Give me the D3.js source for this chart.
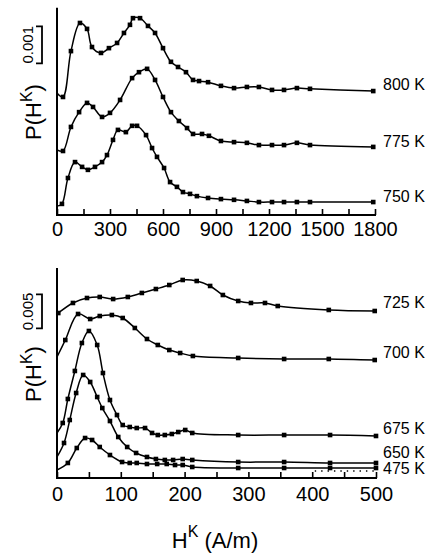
<!DOCTYPE html>
<html>
<head>
<meta charset="utf-8">
<script src="https://cdn.jsdelivr.net/npm/d3@7/dist/d3.min.js"></script>
<style>
  html, body { margin: 0; padding: 0; background: #fff; }
  svg { display: block; font-family: "Liberation Sans", Arial, Helvetica, sans-serif; }
</style>
</head>
<body>
<svg id="chart" width="430" height="554"></svg>
<script>
// ---- upper panel: high-temperature distributions (H in A/m, P per A/m) ----
const h800 = [0, 34, 79, 130, 170, 198, 249, 294, 340, 379, 413, 430, 470, 515, 555, 600, 645, 685, 730, 770, 804, 855, 928, 1002, 1075, 1143, 1217, 1285, 1358, 1432, 1790];
const p800 = [0.00030, 0.00019, 0.00143, 0.00219, 0.00203, 0.00154, 0.00138, 0.00151, 0.00165, 0.00192, 0.00214, 0.00232, 0.00232, 0.00211, 0.00192, 0.00151, 0.00114, 0.00100, 0.00086, 0.00065, 0.00062, 0.00059, 0.00049, 0.00043, 0.00046, 0.00046, 0.00038, 0.00038, 0.00043, 0.00041, 0.00035];

const h775 = [0, 34, 79, 125, 170, 204, 255, 300, 357, 425, 464, 510, 555, 600, 645, 690, 736, 770, 821, 860, 928, 1002, 1075, 1143, 1217, 1285, 1358, 1432, 1790];
const p775 = [0.00026, 0.00023, 0.00088, 0.00128, 0.00153, 0.00142, 0.00115, 0.00126, 0.00161, 0.00220, 0.00236, 0.00245, 0.00215, 0.00169, 0.00128, 0.00104, 0.00085, 0.00069, 0.00069, 0.00064, 0.00050, 0.00047, 0.00045, 0.00039, 0.00039, 0.00039, 0.00045, 0.00039, 0.00034];

const h750 = [0, 28, 62, 102, 142, 175, 215, 255, 283, 317, 345, 390, 425, 453, 504, 538, 566, 606, 640, 679, 713, 753, 792, 855, 928, 1002, 1075, 1143, 1217, 1285, 1358, 1432, 1790];
const p750 = [0.00024, 0.00030, 0.00100, 0.00143, 0.00130, 0.00122, 0.00130, 0.00143, 0.00162, 0.00203, 0.00230, 0.00224, 0.00241, 0.00241, 0.00216, 0.00181, 0.00157, 0.00127, 0.00089, 0.00076, 0.00062, 0.00057, 0.00051, 0.00046, 0.00043, 0.00041, 0.00038, 0.00035, 0.00035, 0.00035, 0.00035, 0.00035, 0.00035];

const upperNames = ["800 K", "775 K", "750 K"];
const upperOffsets = [0.0030, 0.0015, 0];   // vertical shift of each curve
const upperTicks = [0, 300, 600, 900, 1200, 1500, 1800];

// ---- lower panel: low-temperature distributions ----
const h725 = [2, 25, 47, 67, 88, 111, 133, 155, 176, 197, 219, 240, 260, 284, 304, 326, 346, 426, 498];
const p725 = [0.00176, 0.00324, 0.00397, 0.00412, 0.00382, 0.00412, 0.00471, 0.00529, 0.00588, 0.00662, 0.00647, 0.00574, 0.00441, 0.00353, 0.00324, 0.00324, 0.00279, 0.00221, 0.00206];

const h700 = [0, 13, 33, 52, 67, 86, 103, 122, 141, 158, 176, 193, 213, 284, 356, 426, 498];
const p700 = [0.00229, 0.00479, 0.00862, 0.00788, 0.00832, 0.00847, 0.00803, 0.00656, 0.00494, 0.00406, 0.00332, 0.00288, 0.00244, 0.00215, 0.00200, 0.00200, 0.00185];

const h675 = [0, 9, 17, 28, 39, 50, 63, 72, 83, 94, 103, 114, 125, 138, 149, 158, 169, 180, 190, 201, 212, 284, 356, 428, 500];
const p675 = [0.00212, 0.00359, 0.00712, 0.01124, 0.01535, 0.01712, 0.01506, 0.01094, 0.00697, 0.00476, 0.00329, 0.00300, 0.00285, 0.00285, 0.00212, 0.00182, 0.00182, 0.00197, 0.00226, 0.00256, 0.00212, 0.00182, 0.00182, 0.00182, 0.00168];

const h650 = [0, 11, 20, 30, 41, 52, 63, 71, 83, 96, 110, 124, 141, 155, 169, 182, 197, 212, 284, 356, 428, 500];
const p650 = [0.00309, 0.00515, 0.00853, 0.01250, 0.01515, 0.01412, 0.01191, 0.01029, 0.00838, 0.00603, 0.00456, 0.00368, 0.00309, 0.00279, 0.00265, 0.00265, 0.00279, 0.00265, 0.00235, 0.00235, 0.00221, 0.00221];

const h475 = [0, 17, 31, 44, 55, 67, 83, 102, 114, 125, 141, 157, 172, 185, 197, 212, 284, 356, 428, 500];
const p475 = [0.00118, 0.00221, 0.00441, 0.00588, 0.00559, 0.00456, 0.00338, 0.00235, 0.00221, 0.00221, 0.00206, 0.00206, 0.00206, 0.00191, 0.00191, 0.00162, 0.00147, 0.00147, 0.00147, 0.00147];

// dotted reference trace near the baseline
const hDot = [404, 500];
const pDot = [0.00103, 0.00103];

const lowerNames = ["725 K", "700 K", "675 K", "650 K", "475 K"];
const lowerOffsets = [0.0225, 0.0155, 0.0045, 0, 0];
const lowerTicks = [0, 100, 200, 300, 400, 500];

// ---- drawing ----
const svg = d3.select("#chart");
const FONT = '"Liberation Sans", Arial, Helvetica, sans-serif';
const axisX0 = 57;

function zip(h, p, off) { return h.map((v, i) => ({ h: v, p: p[i] + off })); }

function drawPanel(cfg) {
  const g = svg.append("g");
  const x = d3.scaleLinear().domain([0, cfg.xMax]).range([axisX0, cfg.xRight]);
  const y = d3.scaleLinear().domain([0, cfg.yRef]).range([cfg.bottom, cfg.yRefPx]);

  const line = d3.line()
    .x(d => x(d.h))
    .y(d => y(d.p))
    .curve(d3.curveCatmullRom.alpha(0.5));

  cfg.series.forEach((s, i) => {
    const pts = zip(s.h, s.p, s.off);
    g.append("path")
      .attr("d", line(pts))
      .attr("fill", "none")
      .attr("stroke", "#000")
      .attr("stroke-width", 1.5);
    g.selectAll(null)
      .data(pts.filter(d => d.h > 0))
      .join("rect")
      .attr("x", d => x(d.h) - 2.3)
      .attr("y", d => y(d.p) - 2.3)
      .attr("width", 4.6)
      .attr("height", 4.6)
      .attr("fill", "#000");
    const last = pts[pts.length - 1];
    g.append("text")
      .attr("x", 383)
      .attr("y", y(last.p) + s.labelDy)
      .attr("dy", "0.35em")
      .attr("font-size", 16)
      .attr("font-family", FONT)
      .text(s.name);
  });

  if (cfg.dotted) {
    g.append("path")
      .attr("d", d3.line().x(d => x(d.h)).y(d => y(d.p))(zip(cfg.dotted.h, cfg.dotted.p, 0)))
      .attr("fill", "none")
      .attr("stroke", "#000")
      .attr("stroke-width", 1.3)
      .attr("stroke-dasharray", "1.4,5");
  }

  // y axis line (no ticks)
  g.append("line")
    .attr("x1", axisX0).attr("x2", axisX0)
    .attr("y1", y(cfg.yTop)).attr("y2", cfg.bottom + 1)
    .attr("stroke", "#000").attr("stroke-width", 2);

  // x axis with inward ticks, labels on the major values only
  const minor = d3.range(0, cfg.xMax + 1, cfg.minorStep);
  const ax = d3.axisBottom(x)
    .tickValues(minor)
    .tickSizeInner(-6)
    .tickSizeOuter(0)
    .tickPadding(cfg.pad)
    .tickFormat(v => cfg.ticks.includes(v) ? String(v) : "");
  const axg = g.append("g").attr("transform", `translate(0,${cfg.bottom})`).call(ax);
  axg.select(".domain").attr("stroke-width", 2.2).attr("d", `M${axisX0},0H${cfg.xRight + 1}`);
  axg.selectAll(".tick line").attr("stroke-width", 1.6);
  axg.selectAll(".tick text")
    .attr("font-size", 20)
    .attr("font-family", FONT)
    .attr("fill", "#000");

  // scale bar
  const bx = 42;
  const b1 = y(cfg.bar[0]), b2 = y(cfg.bar[1]);
  g.append("path")
    .attr("d", `M${bx - 6},${b2}H${bx}V${b1}H${bx - 6}`)
    .attr("fill", "none").attr("stroke", "#000").attr("stroke-width", 1.8);
  g.append("text")
    .attr("transform", `translate(33,${(b1 + b2) / 2}) rotate(-90)`)
    .attr("text-anchor", "middle")
    .attr("font-size", 15)
    .attr("font-family", FONT)
    .text(cfg.barLabel);

  // rotated axis title P(H^K)
  const t = g.append("text")
    .attr("transform", `translate(41,${cfg.titleY}) rotate(-90)`)
    .attr("text-anchor", "middle")
    .attr("font-size", 22)
    .attr("font-family", FONT);
  t.append("tspan").text("P(H");
  t.append("tspan").attr("dy", -9).attr("font-size", 16).text("K");
  t.append("tspan").attr("dy", 9).text(")");
}

drawPanel({
  xMax: 1800, xRight: 375, minorStep: 150, ticks: upperTicks, pad: 7,
  bottom: 215, yRef: 0.005, yRefPx: 30, yTop: 0.0056,
  bar: [0.0041, 0.0051], barLabel: "0.001", titleY: 112,
  series: [
    { name: upperNames[0], h: h800, p: p800, off: upperOffsets[0], labelDy: -7 },
    { name: upperNames[1], h: h775, p: p775, off: upperOffsets[1], labelDy: -6 },
    { name: upperNames[2], h: h750, p: p750, off: upperOffsets[2], labelDy: -6 }
  ]
});

drawPanel({
  xMax: 500, xRight: 376, minorStep: 50, ticks: lowerTicks, pad: 9,
  bottom: 478, yRef: 0.025, yRefPx: 308, yTop: 0.0309,
  bar: [0.022, 0.027], barLabel: "0.005", titleY: 374,
  dotted: { h: hDot, p: pDot },
  series: [
    { name: lowerNames[0], h: h725, p: p725, off: lowerOffsets[0], labelDy: -9 },
    { name: lowerNames[1], h: h700, p: p700, off: lowerOffsets[1], labelDy: -8 },
    { name: lowerNames[2], h: h675, p: p675, off: lowerOffsets[2], labelDy: -8 },
    { name: lowerNames[3], h: h650, p: p650, off: lowerOffsets[3], labelDy: -11 },
    { name: lowerNames[4], h: h475, p: p475, off: lowerOffsets[4], labelDy: 0 }
  ]
});

// x axis title H^K (A/m)
const xt = svg.append("text")
  .attr("x", 215).attr("y", 548)
  .attr("text-anchor", "middle")
  .attr("font-size", 22)
  .attr("font-family", FONT);
xt.append("tspan").text("H");
xt.append("tspan").attr("dy", -11).attr("font-size", 16).text("K");
xt.append("tspan").attr("dy", 11).text(" (A/m)");
</script>
</body>
</html>
